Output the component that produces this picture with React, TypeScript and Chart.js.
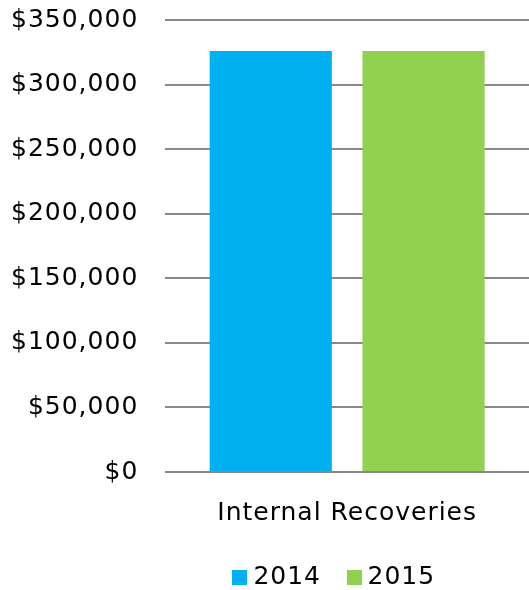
import React, { useEffect, useRef } from "react";
import { Chart, registerables } from "chart.js";

Chart.register(...registerables);

const categories = ["Internal Recoveries"];
const years = ["2014", "2015"];
const values2014 = [326000];
const values2015 = [326000];
const seriesColors = ["#00B0F0", "#92D050"];
const yMax = 350000;
const yStep = 50000;

const FONT = "'DejaVu Sans', Verdana, sans-serif";

function makeSwatch(color: string) {
  const c = document.createElement("canvas");
  c.width = 15;
  c.height = 15;
  const g = c.getContext("2d");
  if (g) {
    g.fillStyle = color;
    g.fillRect(0, 0, 15, 15);
  }
  return c;
}

const spacingPlugin = {
  id: "spacingAndLegendShift",
  beforeLayout(chart: any) {
    chart.ctx.letterSpacing = "1px";
  },
  afterLayout(chart: any) {
    const lg = chart.legend;
    if (lg) {
      const dx = 67;
      const dy = 12;
      lg.left += dx;
      lg.right += dx;
      lg.top += dy;
      lg.bottom += dy;
    }
  },
  beforeDraw(chart: any) {
    chart.ctx.letterSpacing = "1px";
  },
};

export default function App() {
  const ref = useRef<HTMLCanvasElement | null>(null);
  useEffect(() => {
    if (!ref.current) return;
    const chart = new Chart(ref.current, {
      type: "bar",
      data: {
        labels: categories,
        datasets: [
          {
            label: years[0],
            data: values2014,
            backgroundColor: seriesColors[0],
            pointStyle: makeSwatch(seriesColors[0]),
          } as any,
          {
            label: years[1],
            data: values2015,
            backgroundColor: seriesColors[1],
            pointStyle: makeSwatch(seriesColors[1]),
          } as any,
        ],
      },
      options: {
        responsive: false,
        animation: false,
        datasets: { bar: { categoryPercentage: 0.84, barPercentage: 0.8 } },
        layout: { padding: { top: 20, left: 11, right: 0, bottom: 2 } },
        plugins: {
          tooltip: { enabled: false },
          legend: {
            position: "bottom",
            labels: {
              usePointStyle: true,
              pointStyleWidth: 2,
              boxWidth: 15,
              boxHeight: 15,
              padding: 32,
              color: "#000",
              font: { family: FONT, size: 25 },
            },
          },
        },
        scales: {
          x: {
            grid: { display: false, drawTicks: false },
            border: { display: false },
            ticks: { color: "#000", padding: 26, font: { family: FONT, size: 25 } },
            afterFit: (s: any) => {
              s.height -= 33;
            },
          },
          y: {
            min: 0,
            max: yMax,
            grid: {
              color: "#898989",
              lineWidth: 2,
              drawTicks: true,
              tickLength: 27,
              tickColor: "rgba(0,0,0,0)",
            },
            border: { display: false },
            ticks: {
              stepSize: yStep,
              padding: 0,
              color: "#000",
              font: { family: FONT, size: 25 },
              callback: (v: any) => "$" + Number(v).toLocaleString("en-US"),
            },
          },
        },
      },
      plugins: [spacingPlugin],
    });
    return () => chart.destroy();
  }, []);
  return (
    <div style={{ position: "absolute", left: 0, top: 0, width: 529, height: 590 }}>
      <canvas ref={ref} width={529} height={590} />
    </div>
  );
}
